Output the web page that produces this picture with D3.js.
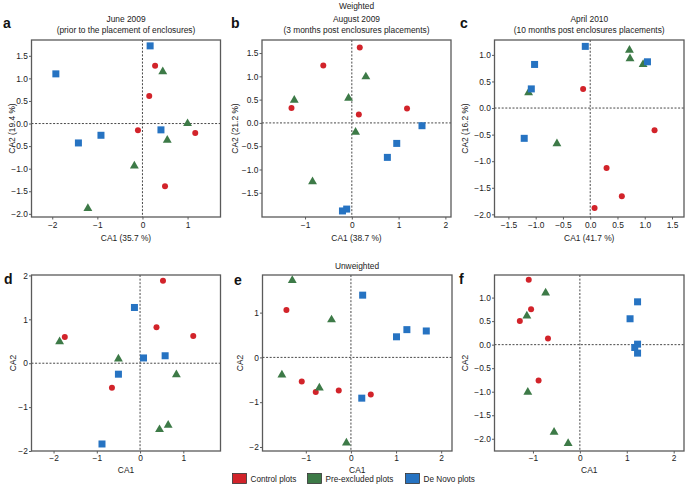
<!DOCTYPE html>
<html>
<head>
<meta charset="utf-8">
<script src="https://cdn.jsdelivr.net/npm/d3@7"></script>
<style>
  body { margin: 0; background: #fff; }
  svg { display: block; font-family: "Liberation Sans", Arial, sans-serif; }
</style>
</head>
<body>
<svg id="chart" width="685" height="489"></svg>
<script>
// ---------- DATA ----------
const groups = ["Control plots", "Pre-excluded plots", "De Novo plots"];
const groupColors = ["#d2232a", "#3d7a47", "#2673c2"];

// Panel a: June 2009 (weighted)
const aControl = [[0.28, 1.28], [0.15, 0.61], [-0.10, -0.15], [1.17, -0.21], [0.50, -1.39]];
const aPre     = [[0.45, 1.15], [1.00, 0.00], [0.55, -0.37], [-0.18, -0.94], [-1.21, -1.88]];
const aNovo    = [[0.17, 1.72], [-1.92, 1.10], [-1.42, -0.43], [-0.92, -0.26], [0.41, -0.14]];

// Panel b: August 2009 (weighted)
const bControl = [[0.17, 1.62], [-0.61, 1.23], [-1.29, 0.32], [0.15, 0.18], [1.18, 0.31]];
const bPre     = [[-1.23, 0.49], [0.30, 0.99], [-0.07, 0.53], [0.08, -0.20], [-0.84, -1.26]];
const bNovo    = [[1.50, -0.06], [0.96, -0.44], [0.76, -0.74], [-0.20, -1.89], [-0.11, -1.85]];

// Panel c: April 2010 (weighted)
const cControl = [[-0.13, 0.36], [1.18, -0.42], [0.30, -1.13], [0.58, -1.66], [0.08, -1.88]];
const cPre     = [[0.72, 1.09], [0.73, 0.93], [0.97, 0.82], [-1.13, 0.29], [-0.61, -0.67]];
const cNovo    = [[-0.09, 1.16], [-1.02, 0.82], [-1.08, 0.36], [-1.21, -0.57], [1.05, 0.87]];

// Panel d (unweighted)
const dControl = [[0.53, 1.88], [0.38, 0.82], [1.23, 0.62], [-1.74, 0.60], [-0.65, -0.56]];
const dPre     = [[-1.86, 0.49], [-0.50, 0.10], [0.84, -0.26], [0.45, -1.51], [0.65, -1.41]];
const dNovo    = [[-0.13, 1.27], [0.08, 0.12], [0.58, 0.17], [-0.50, -0.25], [-0.88, -1.84]];

// Panel e (unweighted)
const eControl = [[-1.43, 1.06], [-1.09, -0.54], [-0.78, -0.77], [-0.27, -0.74], [0.44, -0.83]];
const ePre     = [[-1.30, 1.72], [-0.43, 0.84], [-1.53, -0.39], [-0.70, -0.68], [-0.10, -1.91]];
const eNovo    = [[0.26, 1.39], [1.01, 0.46], [1.24, 0.62], [1.67, 0.59], [0.24, -0.91]];

// Panel f (unweighted)
const fControl = [[-1.09, 1.38], [-1.04, 0.75], [-1.28, 0.50], [-0.68, 0.13], [-0.88, -0.76]];
const fPre     = [[-0.73, 1.10], [-1.13, 0.61], [-1.11, -1.01], [-0.55, -1.86], [-0.25, -2.10]];
const fNovo    = [[1.23, 0.91], [1.07, 0.55], [1.23, 0.01], [1.17, -0.06], [1.23, -0.18]];

// Axis domains and tick values
const xDomains = { a: [-2.46, 1.73], b: [-1.92, 2.12], c: [-1.755, 1.72], d: [-2.51, 1.86], e: [-1.96, 2.24], f: [-1.82, 2.22] };
const yDomains = { a: [-2.07, 1.85], b: [-2.02, 1.78], c: [-2.05, 1.28], d: [-2.0, 2.01], e: [-2.09, 1.84], f: [-2.26, 1.48] };
const xTickVals = { a: [-2, -1, 0, 1], b: [-1, 0, 1, 2], c: [-1.5, -1, -0.5, 0, 0.5, 1, 1.5], d: [-2, -1, 0, 1], e: [-1, 0, 1, 2], f: [-1, 0, 1, 2] };
const yTickVals = { a: [-2, -1.5, -1, -0.5, 0, 0.5, 1, 1.5], b: [-1.5, -1, -0.5, 0, 0.5, 1, 1.5], c: [-2, -1.5, -1, -0.5, 0, 0.5, 1], d: [-2, -1, 0, 1, 2], e: [-2, -1, 0, 1], f: [-2, -1.5, -1, -0.5, 0, 0.5, 1] };
const xTickFormats = { a: "d", b: "d", c: ".1f", d: "d", e: "d", f: "d" };
const yTickFormats = { a: ".1f", b: ".1f", c: ".1f", d: "d", e: "d", f: ".1f" };
const xLabels = { a: "CA1 (35.7 %)", b: "CA1 (38.7 %)", c: "CA1 (41.7 %)", d: "CA1", e: "CA1", f: "CA1" };
const yLabels = { a: "CA2 (19.4 %)", b: "CA2 (21.2 %)", c: "CA2 (16.2 %)", d: "CA2", e: "CA2", f: "CA2" };
const titles1 = { a: "June 2009", b: "August 2009", c: "April 2010" };
const titles2 = { a: "(prior to the placement of enclosures)", b: "(3 months post enclosures placements)", c: "(10 months post enclosures placements)" };
const panelData = {
  a: [aControl, aPre, aNovo], b: [bControl, bPre, bNovo], c: [cControl, cPre, cNovo],
  d: [dControl, dPre, dNovo], e: [eControl, ePre, eNovo], f: [fControl, fPre, fNovo]
};

// ---------- LAYOUT ----------
const boxes = {
  a: { x0: 31.5, x1: 220.5, y0: 40, y1: 217 },
  b: { x0: 262, x1: 451, y0: 40, y1: 217 },
  c: { x0: 494.5, x1: 684, y0: 40, y1: 217 },
  d: { x0: 31.5, x1: 220.5, y0: 275, y1: 451 },
  e: { x0: 262.5, x1: 452, y0: 275, y1: 451 },
  f: { x0: 494.5, x1: 684, y0: 275, y1: 451 }
};
const yLabelX = { a: 12.5, b: 235, c: 465, d: 13, e: 240, f: 465 };
const letterPos = { a: [3, 28], b: [231, 28], c: [460, 28], d: [4, 284], e: [234, 285], f: [459, 284] };

const svg = d3.select("#chart");
const frameColor = "#5a5a5a";
const fs = 8.4;

function drawPanel(key) {
  const bx = boxes[key];
  const x = d3.scaleLinear().domain(xDomains[key]).range([bx.x0, bx.x1]);
  const y = d3.scaleLinear().domain(yDomains[key]).range([bx.y1, bx.y0]);
  const g = svg.append("g");
  const top = bx.y0 < 100;

  // axes
  const xAxis = d3.axisBottom(x).tickValues(xTickVals[key]).tickFormat(d3.format(xTickFormats[key])).tickSize(2.5).tickPadding(top ? 3 : 2);
  const yAxis = d3.axisLeft(y).tickValues(yTickVals[key]).tickFormat(d3.format(yTickFormats[key])).tickSize(2.5).tickPadding(1.2);
  const gx = g.append("g").attr("transform", `translate(0,${bx.y1})`).call(xAxis);
  const gy = g.append("g").attr("transform", `translate(${bx.x0},0)`).call(yAxis);
  [gx, gy].forEach(a => {
    a.select(".domain").remove();
    a.selectAll(".tick line").attr("stroke", "#333").attr("stroke-width", 0.8);
    a.selectAll(".tick text").attr("fill", "#222").style("font-size", fs + "px");
  });

  // zero lines
  g.append("line").attr("x1", bx.x0).attr("x2", bx.x1).attr("y1", y(0)).attr("y2", y(0))
    .attr("stroke", "#333").attr("stroke-width", 0.9).attr("stroke-dasharray", "2,1.6");
  g.append("line").attr("x1", x(0)).attr("x2", x(0)).attr("y1", bx.y0).attr("y2", bx.y1)
    .attr("stroke", "#333").attr("stroke-width", 0.9).attr("stroke-dasharray", "2,1.6");

  // frame
  g.append("rect").attr("x", bx.x0).attr("y", bx.y0).attr("width", bx.x1 - bx.x0).attr("height", bx.y1 - bx.y0)
    .attr("fill", "none").attr("stroke", frameColor).attr("stroke-width", 1.3);

  // points
  const [ctrl, pre, novo] = panelData[key];
  g.selectAll(".ctrl").data(ctrl).join("circle")
    .attr("cx", d => x(d[0])).attr("cy", d => y(d[1])).attr("r", 3)
    .attr("fill", groupColors[0]);
  const tri = d3.symbol().type(d3.symbolTriangle).size(34);
  g.selectAll(".pre").data(pre).join("path")
    .attr("d", tri).attr("transform", d => `translate(${x(d[0])},${y(d[1])})`)
    .attr("fill", groupColors[1]);
  g.selectAll(".novo").data(novo).join("rect")
    .attr("x", d => x(d[0]) - 3.5).attr("y", d => y(d[1]) - 3.5).attr("width", 7).attr("height", 7)
    .attr("fill", groupColors[2]);

  // axis labels
  g.append("text").attr("x", (bx.x0 + bx.x1) / 2).attr("y", bx.y1 + (top ? 24 : 22))
    .attr("text-anchor", "middle").style("font-size", fs + "px").attr("fill", "#222").text(xLabels[key]);
  g.append("text").attr("transform", `translate(${yLabelX[key]},${(bx.y0 + bx.y1) / 2}) rotate(-90)`)
    .attr("dy", "0.35em")
    .attr("text-anchor", "middle").style("font-size", fs + "px").attr("fill", "#222").text(yLabels[key]);

  if (top) {
    g.append("text").attr("x", (bx.x0 + bx.x1) / 2).attr("y", 22)
      .attr("text-anchor", "middle").style("font-size", fs + "px").attr("fill", "#222").text(titles1[key]);
    g.append("text").attr("x", (bx.x0 + bx.x1) / 2).attr("y", 33)
      .attr("text-anchor", "middle").style("font-size", fs + "px").attr("fill", "#222").text(titles2[key]);
  }

  // panel letter
  g.append("text").attr("x", letterPos[key][0]).attr("y", letterPos[key][1])
    .style("font-size", "14px").style("font-weight", "bold").attr("fill", "#111").text(key);
}

["a", "b", "c", "d", "e", "f"].forEach(drawPanel);

// section titles
svg.append("text").attr("x", 356.5).attr("y", 8.5).attr("text-anchor", "middle")
  .style("font-size", fs + "px").attr("fill", "#222").text("Weighted");
svg.append("text").attr("x", 357).attr("y", 269).attr("text-anchor", "middle")
  .style("font-size", fs + "px").attr("fill", "#222").text("Unweighted");

// legend
const legendX = [232.5, 307.5, 405.5];
const lg = svg.append("g");
groups.forEach((name, i) => {
  lg.append("rect").attr("x", legendX[i]).attr("y", 473.5).attr("width", 14).attr("height", 10)
    .attr("fill", groupColors[i]).attr("stroke", "#333").attr("stroke-width", 0.8);
  lg.append("text").attr("x", legendX[i] + 18).attr("y", 482)
    .style("font-size", "8.2px").attr("fill", "#222").text(name);
});
</script>
</body>
</html>
